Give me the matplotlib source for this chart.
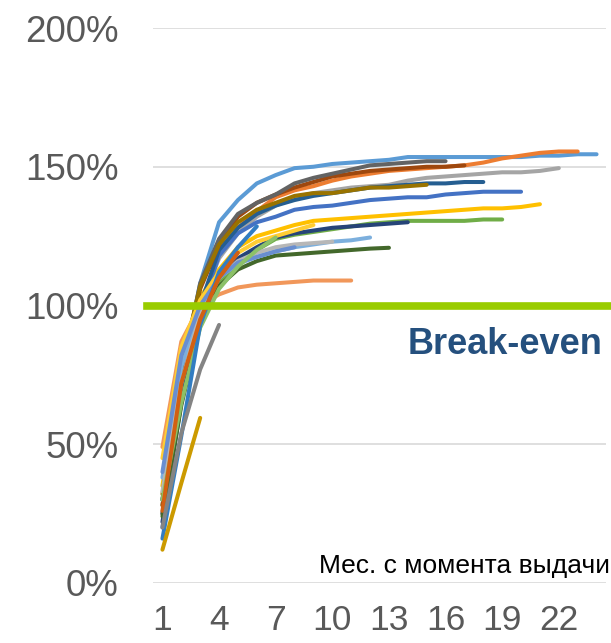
import matplotlib
matplotlib.use("Agg")
import matplotlib.pyplot as plt

plt.rcParams['font.family'] = ['Liberation Sans', 'DejaVu Sans']

months = list(range(1, 25))
tick_months = [1, 4, 7, 10, 13, 16, 19, 22]
y_ticks = [0, 50, 100, 150, 200]
y_tick_labels = ["0%", "50%", "100%", "150%", "200%"]
break_even = 100

s01 = [30, 75, 108, 130, 138, 144, 147, 149.5, 150, 151, 151.5, 152, 152.5, 153.5, 153.5, 153.5, 153.5, 153.5, 153.5, 153.5, 154, 154, 154.5, 154.5]
s02 = [25, 70, 100, 118, 128, 134, 139, 141.5, 143, 145, 146.5, 147.5, 148.5, 149, 149.5, 150, 150.5, 151.5, 153, 154, 155, 155.5, 155.5]
s03 = [30, 72, 100, 117, 126, 132, 136, 139, 140.5, 141.5, 142.5, 143, 143.5, 145, 146, 146.5, 147, 147.5, 148, 148, 148.5, 149.5]
s04 = [35, 80, 103, 113, 121, 125, 127, 129, 130.5, 131, 131.5, 132, 132.5, 133, 133.5, 134, 134.5, 135, 135, 135.5, 136.5]
s05 = [20, 68, 98, 118, 126, 130, 132, 134.5, 135.5, 136, 137, 138, 138.5, 139, 139, 140, 140.5, 141, 141, 141]
s06 = [28, 68, 95, 108, 115, 120, 124, 125.5, 126.5, 127.5, 128.5, 129.5, 130, 130.5, 130.5, 130.5, 130.5, 131, 131]
s07 = [25, 70, 100, 120, 128, 133, 136, 138, 139.5, 140.5, 141.5, 142.5, 143, 143.5, 144, 144, 144.5, 144.5]
s08 = [28, 74, 106, 122, 132, 137, 140, 142.5, 144.5, 146.5, 147.5, 148.5, 149, 149.5, 150, 150, 150.5]
s09 = [30, 75, 108, 124, 133, 137, 140, 144, 146, 147.5, 149, 150.5, 151, 151.5, 152, 152]
s10 = [32, 78, 107, 122, 130, 134.5, 137, 139.5, 140.5, 140.5, 141.5, 142.5, 142.5, 143, 143.5]
s11 = [22, 65, 95, 110, 117, 121, 124.5, 126, 127, 128, 128.5, 129, 129.5, 130]
s12 = [24, 64, 93, 107, 113, 116, 118, 118.5, 119, 119.5, 120, 120.5, 120.8]
s13 = [38, 78, 98, 110, 115, 117.5, 119.5, 121, 122, 123, 123.5, 124.5]
s14 = [49, 87, 100, 104, 106.5, 107.5, 108, 108.5, 109, 109, 109]
s15 = [33, 72, 97, 110, 116, 119, 121, 122, 122.5, 123]
s16 = [45, 85, 102, 112, 119, 123, 125, 127, 129]
s17 = [40, 82, 100, 110, 115.5, 117.5, 119.5, 121]
s18 = [30, 65, 92, 106, 114, 120, 124.5]
s19 = [16, 53, 93, 112, 121, 128.5]
s20 = [26, 72, 95, 110, 119]
s21 = [20, 54, 77, 93]
s22 = [12, 36, 59.5]

series = [s01, s02, s03, s04, s05, s06, s07, s08, s09, s10, s11,
          s12, s13, s14, s15, s16, s17, s18, s19, s20, s21, s22]
colors = ["#5B9BD5", "#ED7D31", "#A5A5A5", "#FFC000", "#4472C4", "#70AD47",
          "#255E91", "#9E480E", "#636363", "#997300", "#264478", "#43682B",
          "#7CAFDD", "#F1975A", "#B7B7B7", "#FFCD33", "#698ED0", "#8CC168",
          "#327DC2", "#D26012", "#848484", "#CC9A00"]

W, H = 611, 643
fig = plt.figure(figsize=(W / 100, H / 100), dpi=100)
ax = fig.add_axes([153 / W, 1 - 583 / H, (606 - 153) / W, (583 - 28) / H])

for vals, c in zip(series, colors):
    ax.plot(months[:len(vals)], vals, color=c, lw=2.9, solid_capstyle='round',
            solid_joinstyle='round', zorder=3)

ax.axhline(break_even, xmin=-0.013, xmax=1.02, color="#99CC00", lw=5.5,
           clip_on=False, zorder=4)

ax.set_xlim(0.5, 24.5)
ax.set_ylim(0, 200)
ax.set_yticks(y_ticks)
ax.set_yticklabels(y_tick_labels)
ax.set_xticks(tick_months)
ax.set_xticklabels([str(m) for m in tick_months])
ax.tick_params(axis='both', length=0, colors="#595959")
ax.tick_params(axis='y', pad=25, labelsize=26.5)
ax.tick_params(axis='x', pad=15, labelsize=25.5)
for sp in ax.spines.values():
    sp.set_visible(False)
ax.grid(axis='y', color="#D9D9D9", lw=1.2, zorder=0)
ax.set_axisbelow(True)

fig.text(603 / W, 1 - 354 / H, "Break-even", ha='right', va='baseline',
         fontsize=26, fontweight='bold', color="#25507E")
fig.text(610 / W, 1 - 573 / H, "Мес. с момента выдачи", ha='right',
         va='baseline', fontsize=19, color="#000000")

fig.savefig("out.png", dpi=100)
